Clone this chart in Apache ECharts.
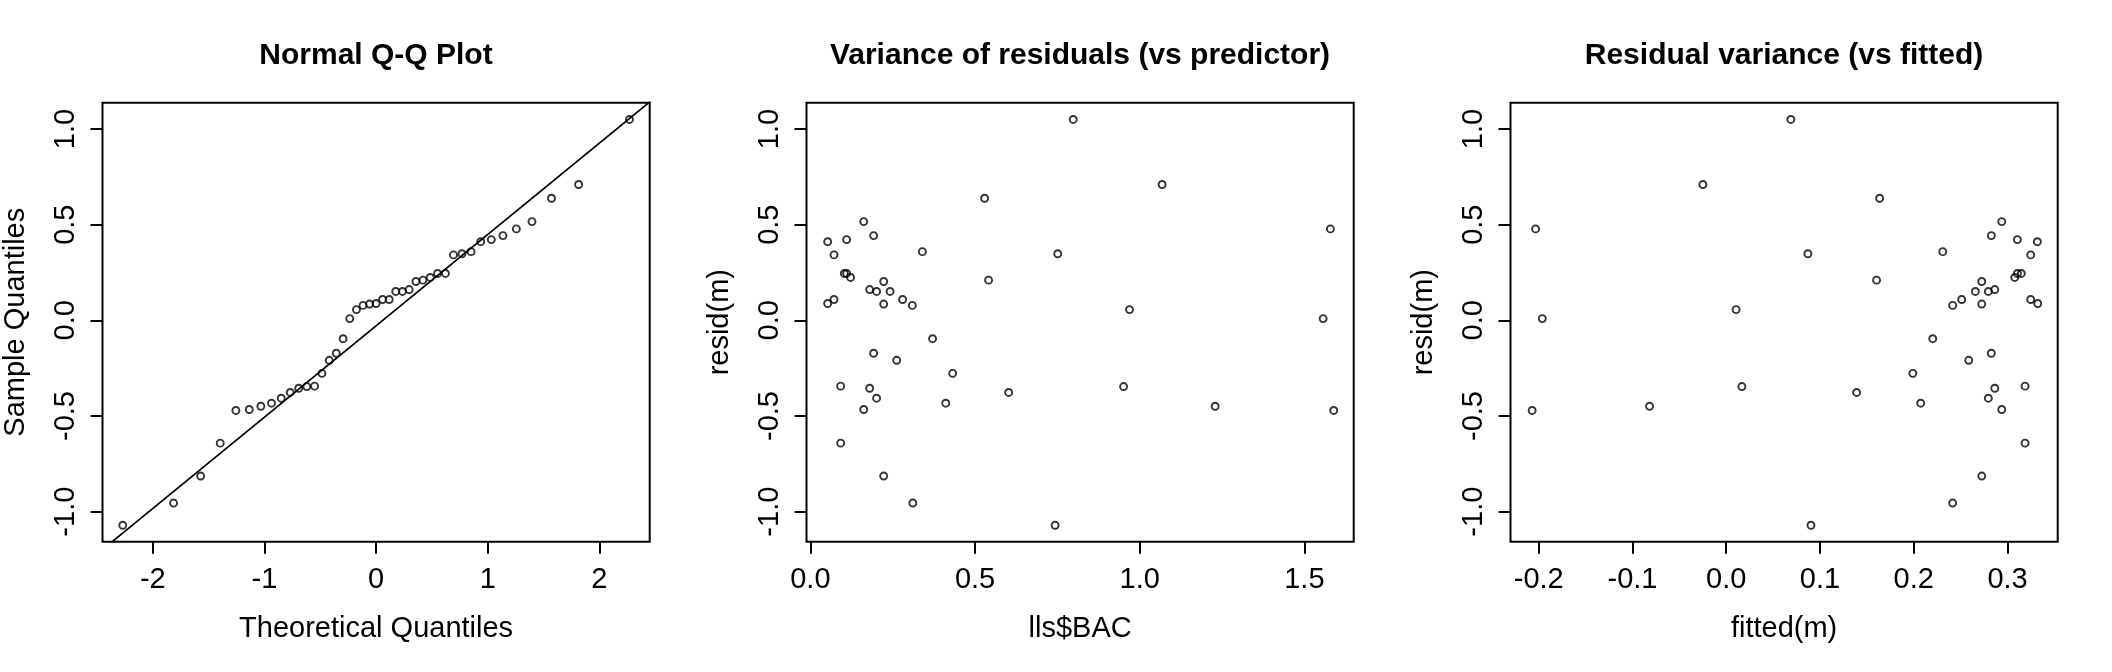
<!DOCTYPE html>
<html>
<head>
<meta charset="utf-8">
<title>Residual diagnostics</title>
<script src="https://cdn.jsdelivr.net/npm/echarts@6/dist/echarts.min.js"></script>
<style>
  html, body { margin: 0; padding: 0; background: #fff; }
  #chart { width: 2112px; height: 672px; }
</style>
</head>
<body>
<div id="chart"></div>
<script>
// Q-Q 图：理论分位数 (n = 43) 与排序后的残差
const qqTheoretical = [
  -2.269, -1.814, -1.571, -1.396, -1.256, -1.136, -1.032, -0.937, -0.850, -0.769,
  -0.693, -0.621, -0.551, -0.485, -0.420, -0.357, -0.296, -0.236, -0.176, -0.117,
  -0.058, 0.000, 0.058, 0.117, 0.176, 0.236, 0.296, 0.357, 0.420, 0.485,
  0.551, 0.621, 0.693, 0.769, 0.850, 0.937, 1.032, 1.136, 1.256, 1.396,
  1.571, 1.814, 2.269
];
const qqSample = [
  -1.071, -0.955, -0.814, -0.642, -0.471, -0.466, -0.449, -0.433, -0.407, -0.377,
  -0.355, -0.346, -0.344, -0.277, -0.209, -0.172, -0.096, 0.009, 0.056, 0.078,
  0.085, 0.088, 0.109, 0.109, 0.151, 0.151, 0.161, 0.203, 0.210, 0.224,
  0.245, 0.245, 0.342, 0.348, 0.359, 0.411, 0.422, 0.443, 0.478, 0.516,
  0.638, 0.710, 1.050
];
// qqline 两端（超出绘图区的部分会被裁掉）
const qqLineX = [-2.46, 2.46];
const qqLineY = [-1.203, 1.146];

// 残差图：预测变量、拟合值、残差（同一顺序）
const bac = [
  0.798, 1.068, 0.529, 0.162, 1.579, 0.192, 0.0525, 0.110, 0.340, 0.0717,
  0.751, 0.103, 0.110, 0.122, 0.541, 0.2226, 0.180, 0.201, 0.242, 0.280,
  0.0717, 0.0525, 0.2226, 0.3095, 0.969, 1.557, 0.371, 0.192, 0.262, 0.432,
  0.092, 0.951, 0.180, 0.602, 0.201, 0.411, 1.229, 0.162, 1.589, 0.092,
  0.2226, 0.311, 0.743
];
const fitted = [
  0.0689, -0.0249, 0.1636, 0.2938, -0.2033, 0.2827, 0.3318, 0.3105, 0.2309, 0.3247,
  0.0871, 0.3147, 0.3105, 0.3077, 0.1603, 0.2725, 0.2864, 0.2795, 0.2657, 0.2511,
  0.3247, 0.3322, 0.2725, 0.2415, 0.0105, -0.1962, 0.2202, 0.2827, 0.2586, 0.1990,
  0.3187, 0.0167, 0.2864, 0.1390, 0.2795, 0.2074, -0.0818, 0.2938, -0.2070, 0.3187,
  0.2725, 0.2415, 0.0904
];
const resid = [
  1.050, 0.710, 0.638, 0.516, 0.478, 0.443, 0.411, 0.422, 0.359, 0.342,
  0.348, 0.245, 0.245, 0.224, 0.210, 0.203, 0.161, 0.151, 0.151, 0.109,
  0.109, 0.088, 0.085, 0.078, 0.056, 0.009, -0.096, -0.172, -0.209, -0.277,
  -0.344, -0.346, -0.355, -0.377, -0.407, -0.433, -0.449, -0.466, -0.471, -0.642,
  -0.814, -0.955, -1.071
];

// 刻度
const qqTicks = [-2, -1, 0, 1, 2];
const bacTicks = [0, 0.5, 1.0, 1.5];
const fittedTicks = [-0.2, -0.1, 0, 0.1, 0.2, 0.3];
const residTicks = [-1, -0.5, 0, 0.5, 1];

const titles = ['Normal Q-Q Plot', 'Variance of residuals (vs predictor)', 'Residual variance (vs fitted)'];
const xNames = ['Theoretical Quantiles', 'lls$BAC', 'fitted(m)'];
const yNames = ['Sample Quantiles', 'resid(m)', 'resid(m)'];

const font = 'Liberation Sans, Arial, sans-serif';
const panelW = 704;

const zip = (xs, ys) => xs.map((x, i) => [x, ys[i]]);

// 每个面板的坐标范围（R 的 4% 扩展）
const xRanges = [[-2.4505, 2.4505], [-0.0118, 1.6497], [-0.2301, 0.3535]];
const yRange = [-1.157, 1.1375];
const xTickSets = [qqTicks, bacTicks, fittedTicks];
const xDigits = [0, 1, 1];

function makeXAxis(i) {
  return {
    gridIndex: i,
    type: 'value',
    position: 'bottom',
    min: xRanges[i][0],
    max: xRanges[i][1],
    name: xNames[i],
    nameLocation: 'middle',
    nameGap: 73,
    nameTextStyle: { fontSize: 29, color: '#000', fontFamily: font },
    axisLine: { show: false, onZero: false },
    splitLine: { show: false },
    axisTick: {
      show: true,
      length: 12,
      customValues: xTickSets[i],
      lineStyle: { color: '#000', width: 2 }
    },
    axisLabel: {
      customValues: xTickSets[i],
      formatter: (v) => v.toFixed(xDigits[i]),
      fontSize: 29,
      margin: 24,
      color: '#000',
      fontFamily: font
    }
  };
}

function makeYAxis(i) {
  return {
    gridIndex: i,
    type: 'value',
    position: 'left',
    min: yRange[0],
    max: yRange[1],
    name: yNames[i],
    nameLocation: 'middle',
    nameGap: 72,
    nameTextStyle: { fontSize: 29, color: '#000', fontFamily: font },
    axisLine: { show: false, onZero: false },
    splitLine: { show: false },
    axisTick: {
      show: true,
      length: 12,
      customValues: residTicks,
      lineStyle: { color: '#000', width: 2 }
    },
    axisLabel: {
      customValues: residTicks,
      formatter: (v) => v.toFixed(1),
      rotate: 90,
      fontSize: 29,
      margin: 22,
      color: '#000',
      fontFamily: font
    }
  };
}

function pointSeries(i, data) {
  return {
    type: 'scatter',
    xAxisIndex: i,
    yAxisIndex: i,
    data: data,
    symbol: 'circle',
    symbolSize: 7,
    silent: true,
    itemStyle: { color: 'rgba(0,0,0,0)', borderColor: '#000', borderWidth: 1.9 }
  };
}

const myChart = echarts.init(document.getElementById('chart'), null, { renderer: 'canvas' });

const option = {
  animation: false,
  backgroundColor: '#fff',
  title: titles.map((t, i) => ({
    text: t,
    left: panelW * i + 376,
    top: 41,
    textAlign: 'center',
    padding: 0,
    textStyle: { fontSize: 30, fontWeight: 'bold', color: '#000', fontFamily: font }
  })),
  grid: [0, 1, 2].map((i) => ({
    left: panelW * i + 102.5,
    top: 102.7,
    width: 547.2,
    height: 439,
    show: true,
    borderColor: '#000',
    borderWidth: 2,
    backgroundColor: 'transparent'
  })),
  xAxis: [0, 1, 2].map(makeXAxis),
  yAxis: [0, 1, 2].map(makeYAxis),
  series: [
    pointSeries(0, zip(qqTheoretical, qqSample)),
    {
      type: 'line',
      xAxisIndex: 0,
      yAxisIndex: 0,
      data: zip(qqLineX, qqLineY),
      showSymbol: false,
      clip: true,
      silent: true,
      lineStyle: { color: '#000', width: 1.7 }
    },
    pointSeries(1, zip(bac, resid)),
    pointSeries(2, zip(fitted, resid))
  ]
};

myChart.setOption(option);
</script>
</body>
</html>
